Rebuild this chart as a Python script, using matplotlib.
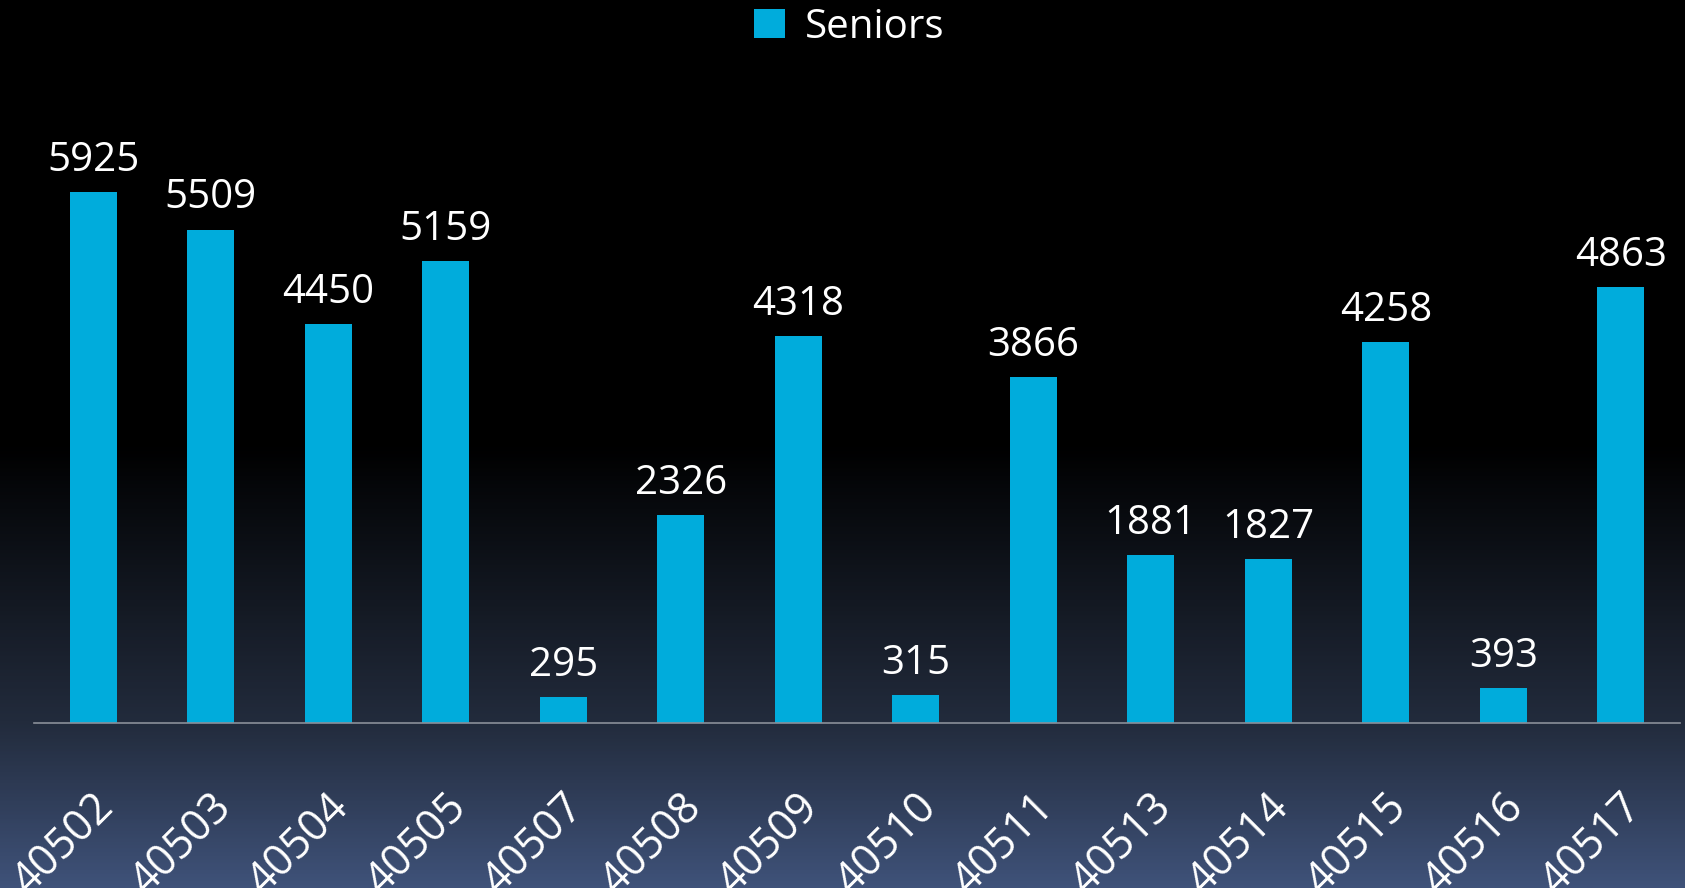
import numpy as np
import matplotlib
matplotlib.use("Agg")
import matplotlib.pyplot as plt
from matplotlib.patches import Patch
from matplotlib.colors import LinearSegmentedColormap
import matplotlib.transforms as mtransforms

zips = ["40502", "40503", "40504", "40505", "40507", "40508", "40509",
        "40510", "40511", "40513", "40514", "40515", "40516", "40517"]
seniors = [5925, 5509, 4450, 5159, 295, 2326, 4318,
           315, 3866, 1881, 1827, 4258, 393, 4863]

bar_color = "#00acdc"
plt.rcParams['font.family'] = ['Open Sans', 'DejaVu Sans']

fig = plt.figure(figsize=(16.85, 8.88), dpi=100)

# background gradient (black at top -> slate blue at bottom)
bg = fig.add_axes([0, 0, 1, 1], zorder=-10)
cmap = LinearSegmentedColormap.from_list(
    "bg", [(0.0, "#000000"), (0.50, "#000000"), (0.814, "#222b3c"), (1.0, "#3f5279")])
grad = np.linspace(0, 1, 500).reshape(-1, 1)
bg.imshow(grad, aspect="auto", cmap=cmap, extent=[0, 1, 0, 1], origin="upper")
bg.axis("off")

ax = fig.add_axes([0.0204, 0.1856, 0.9764, 0.7063])
ax.patch.set_alpha(0)
x = np.arange(len(zips))
bars = ax.bar(x, seniors, width=0.4, color=bar_color)
ax.set_xlim(-0.5, len(zips) - 0.5)
ax.set_ylim(0, 7000)

for xi, v in zip(x, seniors):
    ax.annotate(str(v), (xi, v), xytext=(0, 8), textcoords="offset points",
                ha="center", va="bottom", color="white", fontsize=29)

for s in ["top", "right", "left"]:
    ax.spines[s].set_visible(False)
ax.spines["bottom"].set_color("#8a8f99")
ax.spines["bottom"].set_linewidth(1.2)
ax.set_yticks([])
ax.set_xticks(x)
ax.set_xticklabels(zips, rotation=45, ha="right", va="center",
                   rotation_mode="anchor", color="white", fontsize=31)
ax.tick_params(axis="x", length=0, pad=56)
offset = mtransforms.ScaledTranslation(0.14, 0, fig.dpi_scale_trans)
for lbl in ax.get_xticklabels():
    lbl.set_transform(lbl.get_transform() + offset)

handles = [Patch(facecolor=bar_color, label="Seniors")]
fig.legend(handles=handles, loc="center", bbox_to_anchor=(0.504, 0.969),
           frameon=False, fontsize=29, labelcolor="white",
           handlelength=0.75, handleheight=0.75, handletextpad=0.5)

fig.savefig("out.png", dpi=100)
